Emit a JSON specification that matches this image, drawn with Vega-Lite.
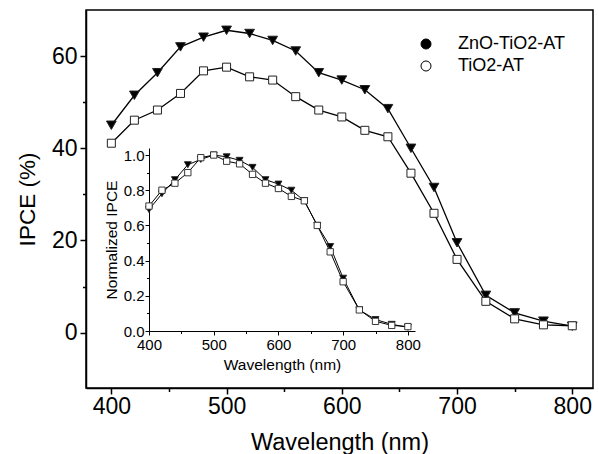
{
  "$schema": "https://vega.github.io/schema/vega-lite/v6.json",
  "width": 507,
  "height": 378,
  "autosize": {"type": "none"},
  "padding": {"left": 86, "top": 10, "right": 6, "bottom": 66},
  "background": "white",
  "config": {
    "view": {"stroke": "black", "strokeWidth": 1.5},
    "font": "Liberation Sans",
    "axis": {"domainColor": "black", "tickColor": "black", "labelColor": "black", "titleColor": "black", "grid": false, "titleFontWeight": "normal", "labelFont": "Liberation Sans", "titleFont": "Liberation Sans"}
  },
  "datasets": {
    "main": [
      {"wl": 400, "ipce": 45.0, "series": "ZnO-TiO2-AT"},
      {"wl": 420, "ipce": 51.5, "series": "ZnO-TiO2-AT"},
      {"wl": 440, "ipce": 56.4, "series": "ZnO-TiO2-AT"},
      {"wl": 460, "ipce": 62.0, "series": "ZnO-TiO2-AT"},
      {"wl": 480, "ipce": 64.1, "series": "ZnO-TiO2-AT"},
      {"wl": 500, "ipce": 65.6, "series": "ZnO-TiO2-AT"},
      {"wl": 520, "ipce": 64.9, "series": "ZnO-TiO2-AT"},
      {"wl": 540, "ipce": 63.4, "series": "ZnO-TiO2-AT"},
      {"wl": 560, "ipce": 61.1, "series": "ZnO-TiO2-AT"},
      {"wl": 580, "ipce": 56.4, "series": "ZnO-TiO2-AT"},
      {"wl": 600, "ipce": 54.8, "series": "ZnO-TiO2-AT"},
      {"wl": 620, "ipce": 52.7, "series": "ZnO-TiO2-AT"},
      {"wl": 640, "ipce": 48.6, "series": "ZnO-TiO2-AT"},
      {"wl": 660, "ipce": 40.0, "series": "ZnO-TiO2-AT"},
      {"wl": 680, "ipce": 31.5, "series": "ZnO-TiO2-AT"},
      {"wl": 700, "ipce": 19.5, "series": "ZnO-TiO2-AT"},
      {"wl": 725, "ipce": 8.1, "series": "ZnO-TiO2-AT"},
      {"wl": 750, "ipce": 4.3, "series": "ZnO-TiO2-AT"},
      {"wl": 775, "ipce": 2.5, "series": "ZnO-TiO2-AT"},
      {"wl": 800, "ipce": 1.4, "series": "ZnO-TiO2-AT"},
      {"wl": 400, "ipce": 41.1, "series": "TiO2-AT"},
      {"wl": 420, "ipce": 46.1, "series": "TiO2-AT"},
      {"wl": 440, "ipce": 48.3, "series": "TiO2-AT"},
      {"wl": 460, "ipce": 51.9, "series": "TiO2-AT"},
      {"wl": 480, "ipce": 56.8, "series": "TiO2-AT"},
      {"wl": 500, "ipce": 57.6, "series": "TiO2-AT"},
      {"wl": 520, "ipce": 55.5, "series": "TiO2-AT"},
      {"wl": 540, "ipce": 54.8, "series": "TiO2-AT"},
      {"wl": 560, "ipce": 51.2, "series": "TiO2-AT"},
      {"wl": 580, "ipce": 48.3, "series": "TiO2-AT"},
      {"wl": 600, "ipce": 46.8, "series": "TiO2-AT"},
      {"wl": 620, "ipce": 43.9, "series": "TiO2-AT"},
      {"wl": 640, "ipce": 42.5, "series": "TiO2-AT"},
      {"wl": 660, "ipce": 34.6, "series": "TiO2-AT"},
      {"wl": 680, "ipce": 25.9, "series": "TiO2-AT"},
      {"wl": 700, "ipce": 15.9, "series": "TiO2-AT"},
      {"wl": 725, "ipce": 6.8, "series": "TiO2-AT"},
      {"wl": 750, "ipce": 3.0, "series": "TiO2-AT"},
      {"wl": 775, "ipce": 1.7, "series": "TiO2-AT"},
      {"wl": 800, "ipce": 1.5, "series": "TiO2-AT"}
    ],
    "inset": [
      {"wl": 400, "norm": 0.69, "series": "ZnO-TiO2-AT"},
      {"wl": 420, "norm": 0.78, "series": "ZnO-TiO2-AT"},
      {"wl": 440, "norm": 0.86, "series": "ZnO-TiO2-AT"},
      {"wl": 460, "norm": 0.945, "series": "ZnO-TiO2-AT"},
      {"wl": 480, "norm": 0.975, "series": "ZnO-TiO2-AT"},
      {"wl": 500, "norm": 1.0, "series": "ZnO-TiO2-AT"},
      {"wl": 520, "norm": 0.99, "series": "ZnO-TiO2-AT"},
      {"wl": 540, "norm": 0.97, "series": "ZnO-TiO2-AT"},
      {"wl": 560, "norm": 0.93, "series": "ZnO-TiO2-AT"},
      {"wl": 580, "norm": 0.86, "series": "ZnO-TiO2-AT"},
      {"wl": 600, "norm": 0.835, "series": "ZnO-TiO2-AT"},
      {"wl": 620, "norm": 0.80, "series": "ZnO-TiO2-AT"},
      {"wl": 640, "norm": 0.74, "series": "ZnO-TiO2-AT"},
      {"wl": 660, "norm": 0.60, "series": "ZnO-TiO2-AT"},
      {"wl": 680, "norm": 0.48, "series": "ZnO-TiO2-AT"},
      {"wl": 700, "norm": 0.30, "series": "ZnO-TiO2-AT"},
      {"wl": 725, "norm": 0.12, "series": "ZnO-TiO2-AT"},
      {"wl": 750, "norm": 0.065, "series": "ZnO-TiO2-AT"},
      {"wl": 775, "norm": 0.038, "series": "ZnO-TiO2-AT"},
      {"wl": 800, "norm": 0.021, "series": "ZnO-TiO2-AT"},
      {"wl": 400, "norm": 0.71, "series": "TiO2-AT"},
      {"wl": 420, "norm": 0.80, "series": "TiO2-AT"},
      {"wl": 440, "norm": 0.84, "series": "TiO2-AT"},
      {"wl": 460, "norm": 0.90, "series": "TiO2-AT"},
      {"wl": 480, "norm": 0.985, "series": "TiO2-AT"},
      {"wl": 500, "norm": 1.0, "series": "TiO2-AT"},
      {"wl": 520, "norm": 0.965, "series": "TiO2-AT"},
      {"wl": 540, "norm": 0.95, "series": "TiO2-AT"},
      {"wl": 560, "norm": 0.89, "series": "TiO2-AT"},
      {"wl": 580, "norm": 0.84, "series": "TiO2-AT"},
      {"wl": 600, "norm": 0.81, "series": "TiO2-AT"},
      {"wl": 620, "norm": 0.765, "series": "TiO2-AT"},
      {"wl": 640, "norm": 0.74, "series": "TiO2-AT"},
      {"wl": 660, "norm": 0.60, "series": "TiO2-AT"},
      {"wl": 680, "norm": 0.45, "series": "TiO2-AT"},
      {"wl": 700, "norm": 0.28, "series": "TiO2-AT"},
      {"wl": 725, "norm": 0.12, "series": "TiO2-AT"},
      {"wl": 750, "norm": 0.055, "series": "TiO2-AT"},
      {"wl": 775, "norm": 0.032, "series": "TiO2-AT"},
      {"wl": 800, "norm": 0.025, "series": "TiO2-AT"}
    ]
  },
  "layer": [
    {
      "data": {"name": "main"},
      "encoding": {
        "x": {"field": "wl", "type": "quantitative",
          "scale": {"domain": [378, 818], "nice": false, "zero": false},
          "axis": {"title": "Wavelength (nm)", "values": [400, 450, 500, 550, 600, 650, 700, 750, 800],
            "labelExpr": "datum.value % 100 === 0 ? datum.label : ''",
            "tickSize": {"condition": {"test": "datum.value % 100 === 0", "value": 6}, "value": 3.5},
            "tickWidth": 1.5, "domainWidth": 1.5, "labelFontSize": 23, "titleFontSize": 23.5, "labelPadding": 1, "titlePadding": 12, "labelFlush": false}},
        "y": {"field": "ipce", "type": "quantitative",
          "scale": {"domain": [-12, 70], "nice": false, "zero": false},
          "axis": {"title": "IPCE (%)", "values": [0, 10, 20, 30, 40, 50, 60],
            "labelExpr": "datum.value % 20 === 0 ? datum.label : ''",
            "tickSize": {"condition": {"test": "datum.value % 20 === 0", "value": 6}, "value": 3.5},
            "tickWidth": 1.5, "domainWidth": 1.5, "labelFontSize": 23, "titleFontSize": 22.5, "labelPadding": 3, "titlePadding": 12, "labelFlush": false}}
      },
      "layer": [
        {"mark": {"type": "line", "color": "black", "strokeWidth": 1.3},
         "encoding": {"detail": {"field": "series", "type": "nominal"}}},
        {"mark": {"type": "point", "filled": true, "opacity": 1, "stroke": "#222", "strokeWidth": 1},
         "encoding": {
           "shape": {"field": "series", "type": "nominal",
             "scale": {"domain": ["TiO2-AT", "ZnO-TiO2-AT"], "range": ["square", "triangle-down"]}, "legend": null},
           "fill": {"field": "series", "type": "nominal",
             "scale": {"domain": ["ZnO-TiO2-AT", "TiO2-AT"], "range": ["black", "white"]},
             "legend": {"title": null, "orient": "none", "legendX": 331, "legendY": 25, "padding": 0,
               "labelFontSize": 18, "labelFont": "Liberation Sans", "labelColor": "black", "labelOffset": 23, "rowPadding": 4,
               "symbolSize": 100, "symbolStrokeWidth": 1, "symbolStrokeColor": "black",
               "encode": {"symbols": {
                 "shape": {"value": {"signal": "datum.value === 'ZnO-TiO2-AT' ? 'M-2.8,0H-0.84M0.84,0H2.8M-0.84,-0.72L0.84,-0.72L0,0.8Z' : 'M-2.8,0H-0.55M0.55,0H2.8M-0.55,-0.55H0.55V0.55H-0.55Z'"}},
                 "stroke": {"value": "black"},
                 "strokeWidth": {"value": 1},
                 "size": {"value": 100},
                 "opacity": {"value": 1}}}}},
           "size": {"field": "series", "type": "nominal",
             "scale": {"domain": ["TiO2-AT", "ZnO-TiO2-AT"], "range": [64, 95]}, "legend": null}
         }}
      ]
    },
    {
      "data": {"name": "inset"},
      "encoding": {
        "x": {"field": "wl", "type": "quantitative",
          "scale": {"domain": [400, 811], "range": [63, 329], "nice": false, "zero": false},
          "axis": {"title": "Wavelength (nm)", "orient": "bottom", "offset": -57, "values": [400, 450, 500, 550, 600, 650, 700, 750, 800],
            "labelExpr": "datum.value % 100 === 0 ? datum.label : ''",
            "tickSize": {"condition": {"test": "datum.value % 100 === 0", "value": 4}, "value": 2.5},
            "tickWidth": 1, "domainWidth": 1, "labelFontSize": 15, "titleFontSize": 15.5, "labelPadding": 2, "titlePadding": 5, "labelFlush": false}},
        "y": {"field": "norm", "type": "quantitative",
          "scale": {"domain": [0, 1.04], "range": [321, 138], "nice": false, "zero": false},
          "axis": {"title": "Normalized IPCE", "orient": "left", "offset": -63, "values": [0, 0.1, 0.2, 0.3, 0.4, 0.5, 0.6, 0.7, 0.8, 0.9, 1.0],
            "format": ".1f",
            "labelExpr": "round(datum.value * 10) % 2 === 0 ? datum.label : ''",
            "tickSize": {"condition": {"test": "round(datum.value * 10) % 2 === 0", "value": 4}, "value": 2.5},
            "tickWidth": 1, "domainWidth": 1, "labelFontSize": 15, "titleFontSize": 15.5, "labelPadding": 1, "titlePadding": 4, "labelFlush": false}}
      },
      "layer": [
        {"mark": {"type": "line", "color": "black", "strokeWidth": 1},
         "encoding": {"detail": {"field": "series", "type": "nominal"}}},
        {"transform": [{"filter": "datum.series === 'ZnO-TiO2-AT'"}],
         "mark": {"type": "point", "shape": "triangle-down", "filled": true, "opacity": 1, "fill": "black", "stroke": "#222", "strokeWidth": 0.9, "size": 48}},
        {"transform": [{"filter": "datum.series === 'TiO2-AT'"}],
         "mark": {"type": "point", "shape": "square", "filled": true, "opacity": 1, "fill": "white", "stroke": "#222", "strokeWidth": 0.9, "size": 40}}
      ]
    }
  ],
  "resolve": {"scale": {"x": "independent", "y": "independent"}}
}
